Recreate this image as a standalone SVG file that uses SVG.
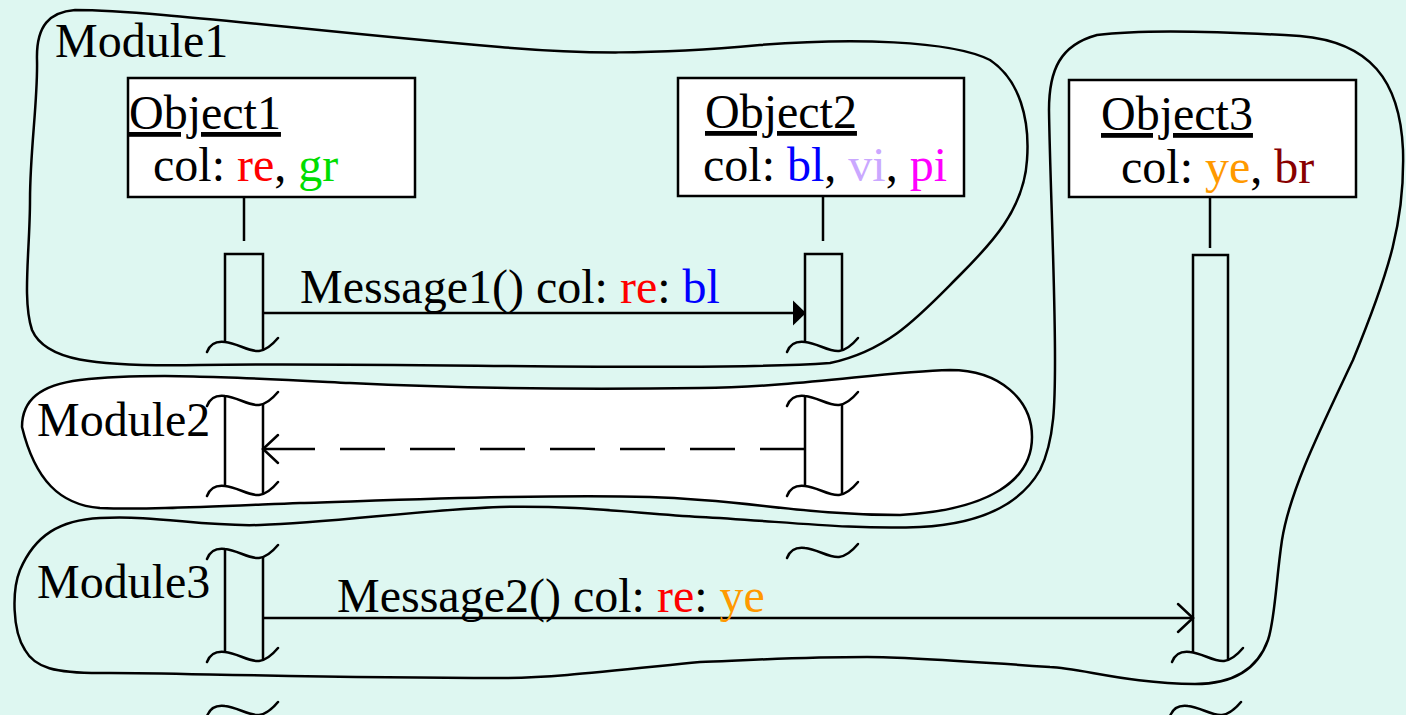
<svg xmlns="http://www.w3.org/2000/svg" xmlns:xlink="http://www.w3.org/1999/xlink" width="1406" height="715" viewBox="0 0 1406 715">
<style>
.mod{fill:none;stroke:#000;stroke-width:2.5}
.m2{fill:#ffffff;stroke:#000;stroke-width:2.5}
.obj{fill:#ffffff;stroke:#000;stroke-width:2.5}
.ln{fill:none;stroke:#000;stroke-width:2.5}
.brk{fill:none;stroke:#000;stroke-width:2.5;stroke-linecap:round}
.t{font-family:"Liberation Serif","Times New Roman",serif;font-size:48px;fill:#000}
.u{text-decoration:underline}
.re{fill:#ff0000}.gr{fill:#00dd00}.bl{fill:#0000ff}.vi{fill:#caa8ff}.pi{fill:#ff00ff}.ye{fill:#ff9900}.br{fill:#880000}
</style>
<defs>
<path id="tilde" class="brk" d="M -18,10 C -15,2 -8,-1 0,0 C 12,1 24,10 34,9 C 42,8 48,2 53,-4"/>
<marker id="filled" markerUnits="userSpaceOnUse" markerWidth="16" markerHeight="28" refX="13" refY="12.5" orient="auto" overflow="visible">
<path d="M0,0 L13,12.5 L0,25 Z" fill="#000" stroke="none"/>
</marker>
<marker id="open" markerUnits="userSpaceOnUse" markerWidth="20" markerHeight="32" refX="15" refY="14" orient="auto" overflow="visible">
<path d="M0,0 L15,14 L0,28" fill="none" stroke="#000" stroke-width="2.5" stroke-dasharray="none" stroke-linecap="round"/>
</marker>
</defs>
<rect x="0" y="0" width="1406" height="715" fill="#def7f1"/>

<g id="module1">
<path class="mod" d="M 37,60 C 36,25 50,12 75,10 C 150,10 300,30 500,47 C 580,54 650,55 760,45 C 850,38 950,40 990,60 C 1020,80 1030,120 1027,160 C 1024,210 990,245 960,275 C 920,315 890,350 830,363 C 700,372 400,362 200,365 C 90,367 45,360 32,330 C 22,300 30,250 30,200 C 30,150 38,100 37,60 Z"/>
<text class="t" x="55" y="57">Module1</text>
</g>

<g id="module3">
<path class="mod" d="M 100,518 C 160,515 200,527 260,525 C 330,523 420,510 500,507 C 580,505 640,514 700,517 C 780,521 850,530 920,527 C 980,524 1020,505 1040,470 C 1055,440 1055,400 1055,360 C 1055,280 1050,180 1049,110 C 1049,70 1060,45 1097,35 C 1150,28 1250,33 1300,36 C 1370,42 1400,80 1403,150 C 1405,220 1390,270 1353,360 C 1320,430 1290,490 1282,540 C 1276,580 1275,620 1268,640 C 1258,668 1235,684 1195,684 C 1130,684 1080,668 1050,667 C 950,660 900,657 867,657 C 800,657 750,660 700,662 C 600,672 550,678 500,678 C 300,678 150,672 100,673 C 55,673 35,668 25,650 C 12,630 12,590 20,570 C 35,535 60,520 100,518 Z"/>
<text class="t" x="37" y="598">Module3</text>
</g>

<g id="module2">
<path class="m2" d="M 22,427 C 22,400 40,385 80,380 C 150,372 250,378 350,383 C 450,388 550,390 700,388 C 800,387 880,372 950,370 C 1000,370 1032,400 1032,437 C 1032,480 990,510 900,515 C 800,515 750,500 650,497 C 550,494 400,500 300,503 C 200,507 140,510 100,508 C 60,505 35,480 22,427 Z"/>
<text class="t" x="37" y="436">Module2</text>
</g>

<g id="object1">
<rect class="obj" x="128" y="78" width="287" height="119"/>
<text class="t u" x="129" y="129">Object1</text>
<text class="t" x="153" y="181">col: <tspan class="re">re</tspan>, <tspan class="gr">gr</tspan></text>
<line class="ln" x1="244" y1="197" x2="244" y2="241"/>
<path class="ln" d="M225,342 V254 H263 V350"/>
<use xlink:href="#tilde" x="225" y="342"/>
<path class="ln" d="M225,396 V486 M263,404 V494"/>
<use xlink:href="#tilde" x="225" y="396"/>
<use xlink:href="#tilde" x="225" y="486"/>
<path class="ln" d="M225,549 V652 M263,557 V660"/>
<use xlink:href="#tilde" x="225" y="549"/>
<use xlink:href="#tilde" x="225" y="652"/>
<use xlink:href="#tilde" x="225" y="706"/>
</g>

<g id="object2">
<rect class="obj" x="678" y="78" width="286" height="118"/>
<text class="t u" x="705" y="128">Object2</text>
<text class="t" x="703" y="181">col: <tspan class="bl">bl</tspan>, <tspan class="vi">vi</tspan>, <tspan class="pi">pi</tspan></text>
<line class="ln" x1="823" y1="196" x2="823" y2="241"/>
<path class="ln" d="M805,342 V254 H842 V350"/>
<use xlink:href="#tilde" x="805" y="342"/>
<path class="ln" d="M805,396 V486 M842,404 V494"/>
<use xlink:href="#tilde" x="805" y="396"/>
<use xlink:href="#tilde" x="805" y="486"/>
<use xlink:href="#tilde" x="805" y="548"/>
</g>

<g id="object3">
<rect class="obj" x="1069" y="80" width="287" height="117"/>
<text class="t u" x="1101" y="130">Object3</text>
<text class="t" x="1121" y="183">col: <tspan class="ye">ye</tspan>, <tspan class="br">br</tspan></text>
<line class="ln" x1="1210" y1="197" x2="1210" y2="248"/>
<path class="ln" d="M1193,652 V255 H1228 V660"/>
<use xlink:href="#tilde" x="1190" y="652"/>
<use xlink:href="#tilde" x="1188" y="706"/>
</g>

<g id="connectors">
<line class="ln" x1="263" y1="313" x2="806" y2="313" marker-end="url(#filled)"/>
<text class="t" x="300" y="303">Message1() col: <tspan class="re">re</tspan>: <tspan class="bl">bl</tspan></text>
<path class="ln" d="M805,449 H263" stroke-dasharray="45 25 45 25 45 25 45 25 45 25 45 25 45 25 52 100" marker-end="url(#open)"/>
<line class="ln" x1="263" y1="618" x2="1193" y2="618" marker-end="url(#open)"/>
<text class="t" x="337" y="612">Message2() col: <tspan class="re">re</tspan>: <tspan class="ye">ye</tspan></text>
</g>
</svg>
